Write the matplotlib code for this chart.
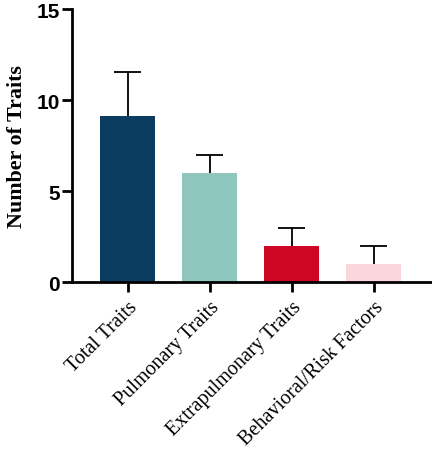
import matplotlib
matplotlib.use("Agg")
import matplotlib.pyplot as plt
import numpy as np

categories = ["Total Traits", "Pulmonary Traits", "Extrapulmonary Traits", "Behavioral/Risk Factors"]
values = [9.1, 6.0, 2.0, 1.0]
errors_upper = [2.45, 1.0, 1.0, 1.0]
colors = ["#0b3d61", "#8fc7bf", "#cf0623", "#fbd6da"]

fig = plt.figure(figsize=(4.32, 4.56), dpi=100)
ax = fig.add_axes([0.167, 0.379, 0.831, 0.599])

x = np.arange(len(categories))
ax.bar(x, values, width=0.67, color=colors, zorder=2)
tops = np.array(values) + np.array(errors_upper)
ax.vlines(x, values, tops, color="black", linewidth=1.3, zorder=3)
ax.hlines(tops, x - 0.165, x + 0.165, color="black", linewidth=1.3, zorder=3)

ax.set_xlim(-0.68, 3.70)
ax.set_ylim(0, 15)
ax.set_yticks([0, 5, 10, 15])
ax.set_xticks(x)
ax.set_xticklabels(categories, rotation=45, ha="right", rotation_mode="anchor",
                   family="Liberation Serif", fontsize=14.5)
for lab in ax.get_yticklabels():
    lab.set_fontfamily("Liberation Sans")
    lab.set_fontweight("bold")
    lab.set_fontsize(15)

ax.set_ylabel("Number of Traits", family="Liberation Serif", fontweight="bold", fontsize=15.8, labelpad=7)

for s in ["top", "right"]:
    ax.spines[s].set_visible(False)
for s in ["left", "bottom"]:
    ax.spines[s].set_linewidth(2)
ax.tick_params(axis="both", width=2, length=7, direction="out")
ax.tick_params(axis="x", pad=4)
ax.tick_params(axis="y", pad=2)

fig.savefig("out.png", dpi=100)
